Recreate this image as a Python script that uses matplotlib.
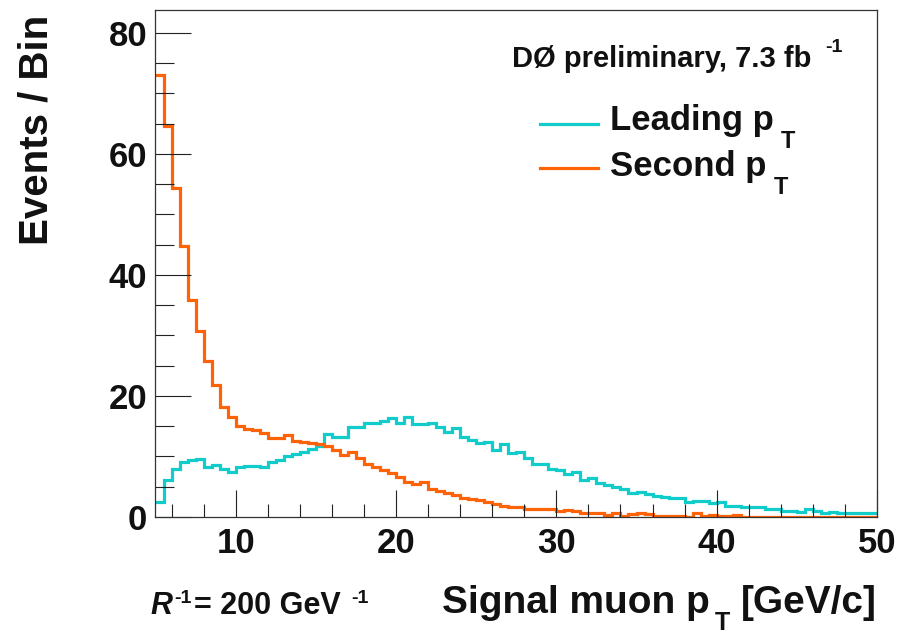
import matplotlib
matplotlib.use("Agg")
import matplotlib.pyplot as plt
import numpy as np
from matplotlib.ticker import MultipleLocator
from matplotlib.transforms import IdentityTransform

plt.rcParams.update({
    "font.family": ["Liberation Sans", "DejaVu Sans"],
    "font.weight": "bold",
})

# --- Data: muon pT spectra, 0.5 GeV bins from 5 to 50 GeV ---
bin_lo, bin_hi, bin_width = 5.0, 50.0, 0.5

leading_pt = [
    2.5, 6.1, 7.9, 9.1, 9.4, 9.6, 8.2, 8.6, 7.9, 7.5, 8.2, 8.4, 8.4, 8.2, 9.1,
    9.4, 10.0, 10.4, 10.8, 11.3, 11.7, 13.8,
    13.3, 13.3, 14.9, 14.9, 15.5, 15.5, 15.8, 16.3, 15.6, 16.6, 15.3, 15.3,
    15.5, 14.8, 14.0, 14.7, 13.3, 12.8, 12.2, 12.4, 11.1, 12.1, 10.6,
    10.7, 9.7, 8.8, 8.8, 7.9, 7.8, 7.1, 7.5, 6.1, 6.4, 5.7, 5.3, 4.9, 4.6,
    3.9, 4.2, 3.8, 3.5, 3.3, 3.1, 3.1, 2.4,
    2.7, 2.7, 2.3, 2.5, 1.9, 1.9, 1.7, 1.7, 1.7, 1.3, 1.3, 1.0, 1.0, 0.9,
    1.4, 1.0, 0.7, 0.9, 0.6, 0.7, 0.7, 0.7, 0.7,
]

second_pt = [
    73.0, 64.6, 54.4, 44.8, 35.9, 30.7, 25.8, 21.8, 18.2, 16.6, 15.0, 14.5,
    14.3, 13.9, 13.0, 13.0, 13.6, 12.6, 12.4, 12.3, 12.1, 11.7,
    11.1, 10.2, 10.8, 9.8, 8.8, 8.2, 7.8, 7.2, 6.6, 5.8, 5.5, 5.8, 4.6, 4.3,
    4.0, 3.6, 3.1, 3.0, 2.8, 2.4, 2.1, 1.8, 1.6,
    1.6, 1.4, 1.3, 1.3, 1.3, 1.0, 1.2, 1.0, 0.7, 0.7, 0.6, 0.4, 0.6, 0.2,
    0.5, 0.7, 0.5, 0.2, 0.2, 0.2, 0.2, 0.0,
    0.6, 0.2, 0.4, 0.1, 0.1, 0.3, 0.0, 0.0, 0.0, 0.0, 0.0, 0.0, 0.0, 0.0,
    0.0, 0.0, 0.0, 0.0, 0.0, 0.0, 0.0, 0.0, 0.0,
]

edges = np.arange(bin_lo, bin_hi + bin_width / 2, bin_width)

CYAN = "#12CCCC"
ORANGE = "#FF6308"
INK = "#111111"

W, H = 904, 634
fig = plt.figure(figsize=(W / 100, H / 100), dpi=100)
fig.set_facecolor("white")

# axes box in pixel units
x0, x1, y_top, y_bot = 155.5, 877.0, 10.0, 517.0
ax = fig.add_axes([x0 / W, 1 - y_bot / H, (x1 - x0) / W, (y_bot - y_top) / H])

ax.stairs(leading_pt, edges, baseline=None, color=CYAN, linewidth=2.3)
ax.stairs(second_pt, edges, baseline=None, color=ORANGE, linewidth=2.3)

ax.set_xlim(bin_lo, bin_hi)
ax.set_ylim(0, 83.8)

ax.xaxis.set_major_locator(MultipleLocator(10))
ax.xaxis.set_minor_locator(MultipleLocator(2))
ax.yaxis.set_major_locator(MultipleLocator(20))
ax.yaxis.set_minor_locator(MultipleLocator(5))

ax.tick_params(which="both", direction="in", top=False, right=False,
               color="#222222", width=0.8)
ax.tick_params(axis="y", which="major", length=26, labelsize=25, pad=6)
ax.tick_params(axis="y", which="minor", length=13.5)
ax.tick_params(axis="x", which="major", length=19.5, labelsize=25, pad=7)
ax.tick_params(axis="x", which="minor", length=9.5)
for lab in ax.get_xticklabels() + ax.get_yticklabels():
    lab.set_fontweight("bold")
    lab.set_color(INK)

for sp in ax.spines.values():
    sp.set_color("#333333")
    sp.set_linewidth(0.9)

renderer = fig.canvas.get_renderer()


def chain(pieces, x, baseline, align="left"):
    """Lay out text pieces left to right in pixel coords (y from the top).

    Each piece is (text, size, rise, gap_before, style)."""
    placed = []
    cx = x
    for s, size, rise, gap, style in pieces:
        cx += gap
        t = fig.text(cx, H - baseline + rise, s, fontsize=size,
                     fontweight="bold", fontstyle=style, color=INK,
                     ha="left", va="baseline", transform=IdentityTransform())
        cx += t.get_window_extent(renderer).width
        placed.append(t)
    if align == "right":
        shift = cx - x
        for t in placed:
            px, py = t.get_position()
            t.set_position((px - shift, py))
    return placed


# axis titles
fig.text(37, H - 15, "Events / Bin", fontsize=29, fontweight="bold",
         color=INK, rotation=90, ha="center", va="top",
         transform=IdentityTransform())
chain([("Signal muon p", 28, 0, 0, "normal"),
       ("T", 18, -17, 5, "normal"),
       ("[GeV/c]", 28, 0, 11, "normal")], x1, 613, align="right")

# model parameter
chain([("R", 22, 0, 0, "italic"),
       ("-1", 14, 11, 2, "normal"),
       ("= 200 GeV", 22, 0, 3, "normal"),
       ("-1", 14, 11, 10, "normal")], 150, 614)

# experiment label
chain([("DØ preliminary, 7.3 fb", 21, 0, 0, "normal"),
       ("-1", 14, 15, 14, "normal")], 512, 67)

# legend
for label, color, line_y, text_y in [("Leading p", CYAN, 124, 130),
                                     ("Second p", ORANGE, 168, 176)]:
    ax.plot([540 / W, 598 / W], [1 - line_y / H] * 2, color=color,
            linewidth=2.3, transform=fig.transFigure, clip_on=False)
    chain([(label, 25, 0, 0, "normal"),
           ("T", 17, -18, 7, "normal")], 610, text_y)

fig.savefig("out.png", dpi=100, facecolor="white")
